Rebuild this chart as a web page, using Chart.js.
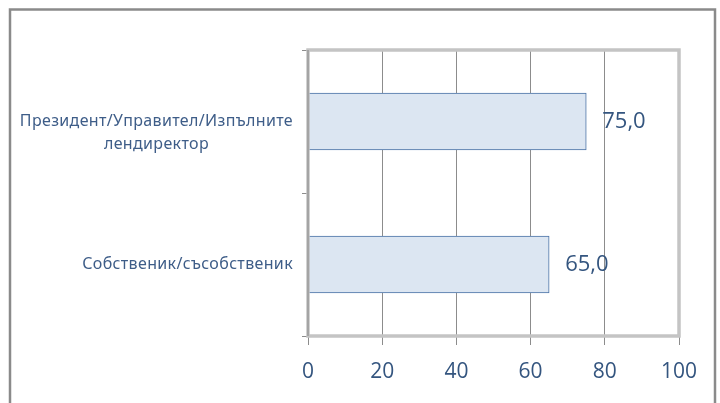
<!DOCTYPE html>
<html>
<head>
<meta charset="utf-8">
<script src="https://cdn.jsdelivr.net/npm/chart.js@4/dist/chart.umd.min.js"></script>
<style>
  html, body { margin: 0; padding: 0; background: #fff; }
  #wrap { position: relative; width: 720px; height: 403px; }
</style>
</head>
<body>
<div id="wrap"><canvas id="myChart" width="720" height="403"></canvas></div>
<script>
const categories = [
  ['Президент/Управител/Изпълните', 'лендиректор'],
  ['Собственик/съсобственик']
];
const values = [75.0, 65.0];
const xTicks = [0, 20, 40, 60, 80, 100];

const textColor = '#34557f';
const catColor = '#3e5d88';

// frame around the whole chart + border around the plot area
const framePlugin = {
  id: 'frame',
  beforeDraw(chart) {
    const ctx = chart.ctx;
    ctx.save();
    ctx.strokeStyle = '#8a8a8a';
    ctx.lineWidth = 2.5;
    ctx.strokeRect(10, 9.5, 705, 420);
    ctx.restore();
  },
  afterDraw(chart) {
    const a = chart.chartArea;
    const ctx = chart.ctx;
    ctx.save();
    ctx.strokeStyle = '#c4c4c4';
    ctx.lineWidth = 3.5;
    ctx.strokeRect(a.left, a.top, a.right - a.left, a.bottom - a.top);
    ctx.strokeStyle = '#9a9a9a';
    ctx.lineWidth = 1.5;
    ctx.beginPath();
    ctx.moveTo(a.left, a.top);
    ctx.lineTo(a.left, a.bottom);
    ctx.stroke();
    ctx.restore();
  }
};

// category labels: block right-aligned to the axis, lines centred inside the block
const categoryLabels = {
  id: 'categoryLabels',
  afterDraw(chart) {
    const ctx = chart.ctx;
    const y = chart.scales.y;
    const right = y.right - 15;
    const lineH = 23;
    ctx.save();
    ctx.font = '16px "Noto Sans", sans-serif';
    ctx.letterSpacing = '0.35px';
    ctx.fillStyle = catColor;
    ctx.textAlign = 'center';
    ctx.textBaseline = 'middle';
    categories.forEach((lines, i) => {
      const cy = y.getPixelForTick(i);
      const widest = Math.max(...lines.map(l => ctx.measureText(l).width));
      const cx = right - widest / 2;
      lines.forEach((l, j) => ctx.fillText(l, cx, cy + j * lineH));
    });
    ctx.restore();
  }
};

// value labels to the right of each bar
const valueLabels = {
  id: 'valueLabels',
  afterDatasetsDraw(chart) {
    const ctx = chart.ctx;
    const meta = chart.getDatasetMeta(0);
    ctx.save();
    ctx.font = '22px "Open Sans", sans-serif';
    ctx.fillStyle = textColor;
    ctx.textAlign = 'left';
    ctx.textBaseline = 'middle';
    meta.data.forEach((bar, i) => {
      ctx.fillText(values[i].toFixed(1).replace('.', ','), bar.x + 16, bar.y);
    });
    ctx.restore();
  }
};

new Chart(document.getElementById('myChart'), {
  type: 'bar',
  data: {
    labels: categories.map(c => c.join(' ')),
    datasets: [{
      data: values,
      backgroundColor: '#dce6f2',
      borderColor: '#4a72a6',
      borderWidth: 1,
      borderSkipped: false,
      barThickness: 57
    }]
  },
  options: {
    indexAxis: 'y',
    responsive: false,
    animation: false,
    layout: { padding: { top: 50, right: 41, bottom: 0, left: 0 } },
    plugins: {
      legend: { display: false },
      tooltip: { enabled: false }
    },
    scales: {
      x: {
        min: 0,
        max: 100,
        afterBuildTicks(scale) {
          scale.ticks = xTicks.map(v => ({ value: v }));
        },
        afterFit(scale) { scale.height = 67; },
        border: { display: false },
        grid: {
          color: '#8c8c8c',
          lineWidth: 1,
          tickLength: 9,
          drawTicks: true
        },
        ticks: {
          color: textColor,
          padding: 14,
          maxRotation: 0,
          font: { family: '"Open Sans", sans-serif', size: 21 }
        }
      },
      y: {
        afterFit(scale) { scale.width = 308; },
        border: { display: false },
        grid: {
          offset: true,
          drawOnChartArea: false,
          color: '#8c8c8c',
          tickLength: 6
        },
        ticks: {
          display: false
        }
      }
    }
  },
  plugins: [framePlugin, categoryLabels, valueLabels]
});
</script>
</body>
</html>
